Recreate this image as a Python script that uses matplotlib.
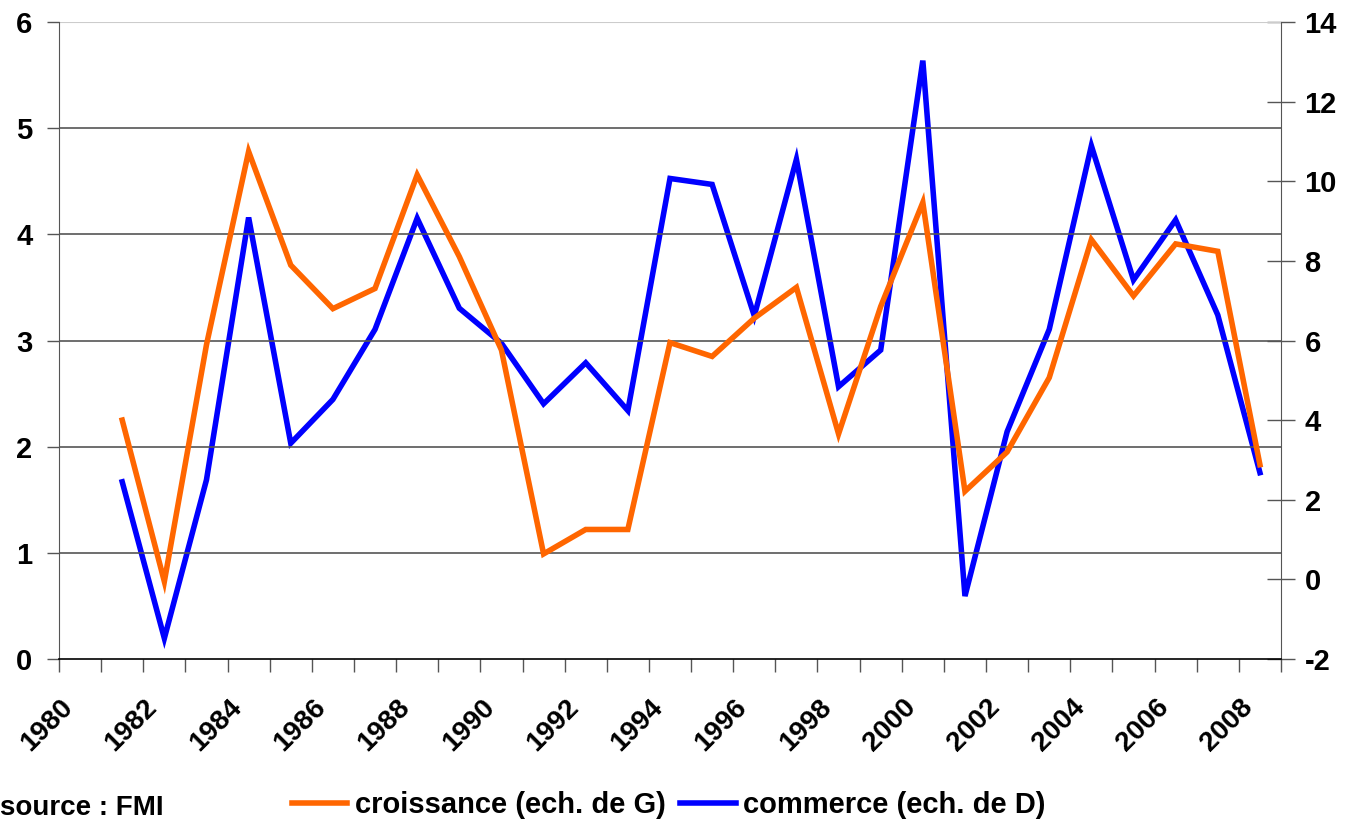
import matplotlib as mpl
mpl.use('Agg')
import matplotlib.pyplot as plt
import matplotlib.transforms as mtransforms
import numpy as np

# data -------------------------------------------------------------------------
years = list(range(1981, 2009))
croissance = [2.25, 0.73, 2.96, 4.78, 3.71, 3.30, 3.49, 4.56, 3.79, 2.91,
              0.99, 1.22, 1.22, 2.98, 2.85, 3.21, 3.50, 2.12, 3.32, 4.30,
              1.58, 1.95, 2.65, 3.95, 3.42, 3.91, 3.84, 1.83]
commerce = [2.45, -1.48, 2.50, 9.09, 3.42, 4.52, 6.28, 9.07, 6.81, 5.93,
            4.41, 5.44, 4.24, 10.07, 9.92, 6.62, 10.55, 4.84, 5.76, 13.03,
            -0.42, 3.71, 6.28, 10.89, 7.52, 9.03, 6.64, 2.68]
first_year, last_year = 1980, 2008
label_years = list(range(1980, 2009, 2))

plt.rcParams['font.family'] = ['Liberation Sans', 'DejaVu Sans']
plt.rcParams['font.weight'] = 'bold'
plt.rcParams['axes.unicode_minus'] = False

fig = plt.figure(figsize=(13.48, 8.26), dpi=100)
ax = fig.add_axes([59/1348, 1-659/826, (1281-59)/1348, (659-22)/826])
ax2 = ax.twinx()

# categories are centred between the tick marks
xs = np.array(years) - first_year + 0.5
l1, = ax.plot(xs, croissance, color='#FF6600', lw=4, solid_joinstyle='miter',
              label='croissance (ech. de G)')
l2, = ax2.plot(xs, commerce, color='#0000FF', lw=4, solid_joinstyle='miter',
               label='commerce (ech. de D)')
ax.set_zorder(ax2.get_zorder() + 1)
ax.patch.set_visible(False)

ncat = last_year - first_year + 1
ax.set_xlim(0, ncat)
ax.set_ylim(0, 6)
ax2.set_ylim(-2, 14)

# left axis
ax.set_yticks(range(0, 7))
ax.tick_params(axis='y', length=9, width=1, color='#555555', labelsize=21, pad=10)
for v in range(1, 6):
    ax.axhline(v, color='#555555', lw=1.2, zorder=0)
ax.axhline(6, color='#cccccc', lw=1.5, zorder=0)

# right axis
ax2.set_yticks(range(-2, 15, 2))
ax2.tick_params(axis='y', length=20, width=1, direction='inout', color='#555555',
                labelsize=21, pad=7)

# x axis: ticks on category borders, labels on centres of even years
ax.set_xticks(range(0, ncat + 1))
ax.set_xticklabels([])
ax.tick_params(axis='x', length=9, width=1, color='#555555')
ax.set_xticks([y - first_year + 0.5 for y in label_years], minor=True)
ax.set_xticklabels([str(y) for y in label_years], minor=True, rotation=45,
                   ha='right', va='center', rotation_mode='anchor', fontsize=20)
ax.tick_params(axis='x', which='minor', length=0, pad=32)
offset = mtransforms.ScaledTranslation(-11/100, 0, fig.dpi_scale_trans)
for lab in ax.get_xticklabels(minor=True):
    lab.set_transform(lab.get_transform() + offset)

for a in (ax, ax2):
    a.spines['top'].set_visible(False)
ax.spines['left'].set_color('#555555')
ax.spines['right'].set_visible(False)
ax2.spines['left'].set_visible(False)
ax2.spines['right'].set_color('#555555')
ax.spines['bottom'].set_color('black')
ax.spines['bottom'].set_linewidth(1.2)
ax2.spines['bottom'].set_visible(False)

fig.text(0.0, 1-808/826, 'source : FMI', fontsize=20, ha='left', va='center')
fig.legend(handles=[l1, l2], loc='center left', bbox_to_anchor=(292/1348, 1-805/826),
           ncol=2, frameon=False, fontsize=21, handlelength=1.9, handletextpad=0.25,
           columnspacing=0.5, borderaxespad=0, borderpad=0)

plt.savefig('out.png', dpi=100)
